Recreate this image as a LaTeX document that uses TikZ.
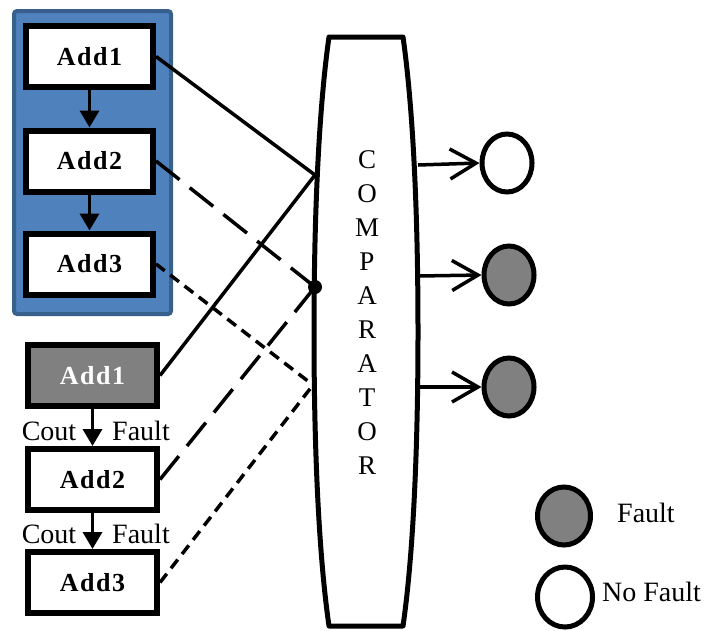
\documentclass[tikz,border=0pt]{standalone}
\usepackage{fontspec}
\setmainfont{Liberation Serif}
\newfontfamily\addfont[LetterSpace=6]{Liberation Serif}
\usetikzlibrary{arrows.meta,shapes.geometric}
\definecolor{panelblue}{HTML}{4F81BD}
\definecolor{paneledge}{HTML}{37608C}
\definecolor{faultgray}{HTML}{808080}
\tikzset{
  adder/.style={draw, line width=6pt, fill=white, minimum width=127pt, minimum height=61pt,
    inner sep=0pt, font=\addfont\bfseries\fontsize{26}{30}\selectfont},
  faultadder/.style={adder, fill=faultgray, text=white, minimum width=129pt},
  chain/.style={line width=3.5pt, -{Triangle[length=17pt,width=19pt]}},
  solidlink/.style={line width=3.5pt},
  longdash/.style={line width=3.5pt, dash pattern=on 30pt off 13pt},
  shortdash/.style={line width=3.5pt, dash pattern=on 11pt off 7pt},
  outarrow/.style={line width=3.5pt, -{Straight Barb[length=26pt,width=30pt,line width=3.5pt]}},
  result/.style={ellipse, draw, line width=5pt, minimum width=50pt, minimum height=58pt, inner sep=0pt},
  lbl/.style={inner sep=0pt, font=\fontsize{28}{30}\selectfont},
}
\begin{document}
\begin{tikzpicture}[x=1pt,y=-1pt]
\useasboundingbox (0,0) rectangle (708,630);

% blue panel holding the reference chain
\draw[fill=panelblue, draw=paneledge, line width=4pt, rounded corners=3pt] (14,11) rectangle (171,314);

% reference adder chain
\node[adder] (a1) at (89.5,56.5) {Add1};
\node[adder] (a2) at (89.5,161) {Add2};
\node[adder] (a3) at (89.5,264) {Add3};
\draw[chain] (a1.south) -- (a2.north);
\draw[chain] (a2.south) -- (a3.north);

% adder chain under test
\node[faultadder] (b1) at (92.5,375.5) {Add1};
\node[adder, minimum width=129pt] (b2) at (92.5,479.5) {Add2};
\node[adder, minimum width=129pt] (b3) at (92.5,582.5) {Add3};
\draw[chain] (b1.south) -- (b2.north);
\draw[chain] (b2.south) -- (b3.north);

\node[lbl, anchor=base] (co1) at (49,440) {Cout};
\node[lbl, anchor=base] (fa1) at (141,440) {Fault};
\node[lbl, anchor=base] (co2) at (49,543) {Cout};
\node[lbl, anchor=base] (fa2) at (141,543) {Fault};

% comparator body
\draw[line width=5pt, fill=white, line join=round]
  (366,37) -- (403,37) .. controls (412,100) and (418,200) .. (418,332)
  .. controls (418,464) and (412,564) .. (403,626) -- (329,626)
  .. controls (320,564) and (314,464) .. (314,332)
  .. controls (314,200) and (320,100) .. (329,37) -- cycle;
\node[align=center, inner sep=0pt, font=\fontsize{27}{34}\selectfont] (cmp) at (367,313)
  {C\\O\\M\\P\\A\\R\\A\\T\\O\\R};

% input junctions on the comparator
\coordinate (j1) at (315,175);
\coordinate (j2) at (315,287);
\coordinate (j3) at (313,385);

\draw[solidlink] (a1.east) -- (j1);
\draw[solidlink] (b1.east) -- (j1);
\draw[longdash] (a2.east) -- (j2);
\draw[longdash] (b2.east) -- (j2);
\draw[shortdash] (a3.east) -- (j3);
\draw[shortdash] (b3.east) -- (j3);
\fill (j2) circle (7pt);

% outputs
\coordinate (o1) at (418,165);
\coordinate (o2) at (418,276);
\coordinate (o3) at (418,387);
\node[result, fill=white] (r1) at (507,163) {};
\node[result, fill=faultgray] (r2) at (509,275) {};
\node[result, fill=faultgray] (r3) at (509,387) {};
\draw[outarrow] (o1) -- (r1.west);
\draw[outarrow] (o2) -- (r2.west);
\draw[outarrow] (o3) -- (r3.west);

% legend
\node[result, fill=faultgray, minimum width=53pt, minimum height=58pt] (lf) at (564,516) {};
\node[result, fill=white, minimum width=55pt, minimum height=60pt] (ln) at (565,597) {};
\node[lbl, anchor=west] (tf) at (617,513) {Fault};
\node[lbl, anchor=west] (tn) at (602,592) {No Fault};
\end{tikzpicture}
\end{document}
